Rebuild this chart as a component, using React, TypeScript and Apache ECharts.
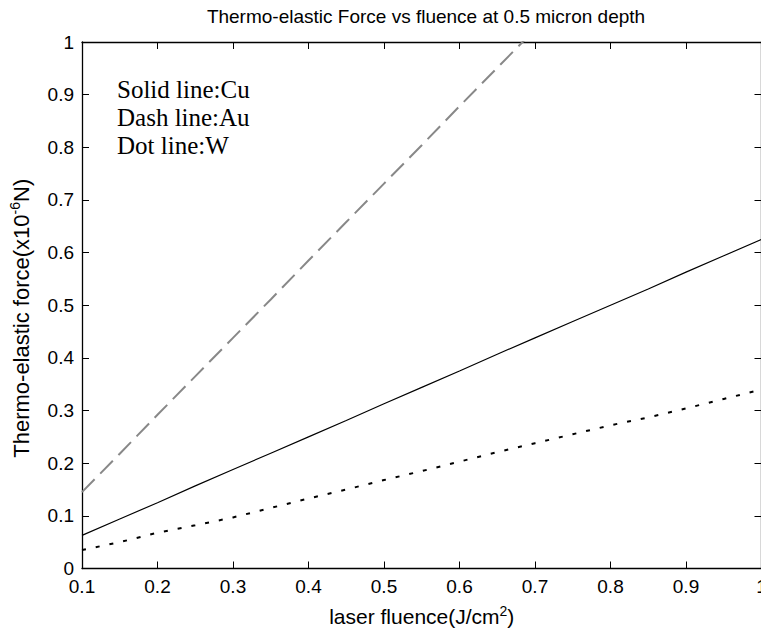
import React, { useEffect, useRef } from "react";
import * as echarts from "echarts";

const fluence = [0.1, 0.15, 0.2, 0.25, 0.3, 0.35, 0.4, 0.45, 0.5, 0.55, 0.6, 0.65, 0.7, 0.75, 0.8, 0.85, 0.9, 0.95, 1.0];
const cuForce = [0.063, 0.094, 0.125, 0.157, 0.188, 0.219, 0.25, 0.281, 0.313, 0.344, 0.375, 0.407, 0.438, 0.469, 0.5, 0.531, 0.563, 0.594, 0.625];
const auFluence = [0.1, 0.15, 0.2, 0.25, 0.3, 0.35, 0.4, 0.45, 0.5, 0.55, 0.6, 0.65, 0.7];
const auForce = [0.145, 0.218, 0.292, 0.365, 0.438, 0.511, 0.585, 0.658, 0.731, 0.804, 0.878, 0.951, 1.024];
const wForce = [0.035, 0.05, 0.068, 0.082, 0.097, 0.115, 0.133, 0.15, 0.168, 0.185, 0.203, 0.221, 0.238, 0.255, 0.272, 0.287, 0.304, 0.322, 0.34];
const legendLines = ["Solid line:Cu", "Dash line:Au", "Dot line:W"];

const FONT = "Liberation Sans, Arial, Helvetica, sans-serif";
const CHART_W = 780;

export default function App() {
  const ref = useRef<HTMLDivElement>(null);
  useEffect(() => {
    if (!ref.current) return;
    const chart = echarts.init(ref.current, null, { renderer: "svg" });
    const fmt = (v: number) => String(Math.round(v * 10) / 10);
    const pair = (xs: number[], ys: number[]) => xs.map((x, i) => [x, ys[i]]);
    const xBase = {
      type: "value" as const,
      min: 0.1,
      max: 1.0,
      interval: 0.1,
      splitLine: { show: false },
      axisLine: { show: true, onZero: false, lineStyle: { color: "#000", width: 1.3 } },
      axisTick: { show: true, inside: true, length: 7, lineStyle: { color: "#000", width: 1 } },
    };
    const yBase = {
      type: "value" as const,
      min: 0,
      max: 1,
      interval: 0.1,
      splitLine: { show: false },
      axisLine: { show: true, onZero: false, lineStyle: { color: "#000", width: 1.3 } },
      axisTick: { show: true, inside: true, length: 7, lineStyle: { color: "#000", width: 1 } },
    };
    chart.setOption({
      animation: false,
      backgroundColor: "#fff",
      title: {
        text: "Thermo-elastic Force vs fluence at 0.5 micron depth",
        left: 421,
        textAlign: "center",
        top: 2,
        textStyle: { fontFamily: FONT, fontSize: 19, fontWeight: "normal", color: "#000" },
      },
      grid: { left: 82, top: 42, bottom: 58, right: CHART_W - 761.5, containLabel: false },
      xAxis: [
        {
          ...xBase,
          position: "bottom",
          axisLabel: { show: true, margin: 8, formatter: fmt, fontFamily: FONT, fontSize: 19, color: "#000" },
          name: "{a|laser fluence(J/cm}{s|2}{a|)}",
          nameLocation: "middle",
          nameGap: 35,
          nameTextStyle: {
            rich: {
              a: { fontFamily: FONT, fontSize: 21, color: "#000", lineHeight: 26 },
              s: { fontFamily: FONT, fontSize: 14, color: "#000", lineHeight: 14, verticalAlign: "top" },
            },
          },
        },
        { ...xBase, position: "top", axisLabel: { show: false } },
      ],
      yAxis: [
        {
          ...yBase,
          position: "left",
          axisLabel: { show: true, margin: 8, formatter: fmt, fontFamily: FONT, fontSize: 19, color: "#000" },
          name: "{a|Thermo-elastic force(x10}{s|-6}{a|N)}",
          nameLocation: "middle",
          nameGap: 48,
          nameRotate: 90,
          nameTextStyle: {
            padding: [0, 26, 0, 0],
            rich: {
              a: { fontFamily: FONT, fontSize: 22, color: "#000", lineHeight: 26 },
              s: { fontFamily: FONT, fontSize: 14, color: "#000", lineHeight: 14, verticalAlign: "top" },
            },
          },
        },
        { ...yBase, position: "right", axisLabel: { show: false } },
      ],
      graphic: legendLines.map((t, i) => ({
        type: "text",
        left: 117,
        top: 77 + i * 28,
        style: { text: t, font: "25px 'Liberation Serif', 'Times New Roman', serif", fill: "#000" },
      })),
      series: [
        {
          name: "Cu",
          type: "line",
          data: pair(fluence, cuForce),
          showSymbol: false,
          symbol: "none",
          lineStyle: { color: "#000", width: 1.2, type: "solid" },
          clip: true,
        },
        {
          name: "Au",
          type: "line",
          data: pair(auFluence, auForce),
          showSymbol: false,
          symbol: "none",
          lineStyle: { color: "#888", width: 2, type: [18, 8] },
          clip: true,
        },
        {
          name: "W",
          type: "line",
          data: pair(fluence, wForce),
          showSymbol: false,
          symbol: "none",
          lineStyle: { color: "#000", width: 2, type: [4, 10] },
          clip: true,
        },
      ],
    });
    return () => chart.dispose();
  }, []);
  return (
    <div style={{ position: "absolute", left: 0, top: 0, width: 761, height: 632, overflow: "hidden" }}>
      <div ref={ref} style={{ width: CHART_W, height: 632 }} />
    </div>
  );
}
